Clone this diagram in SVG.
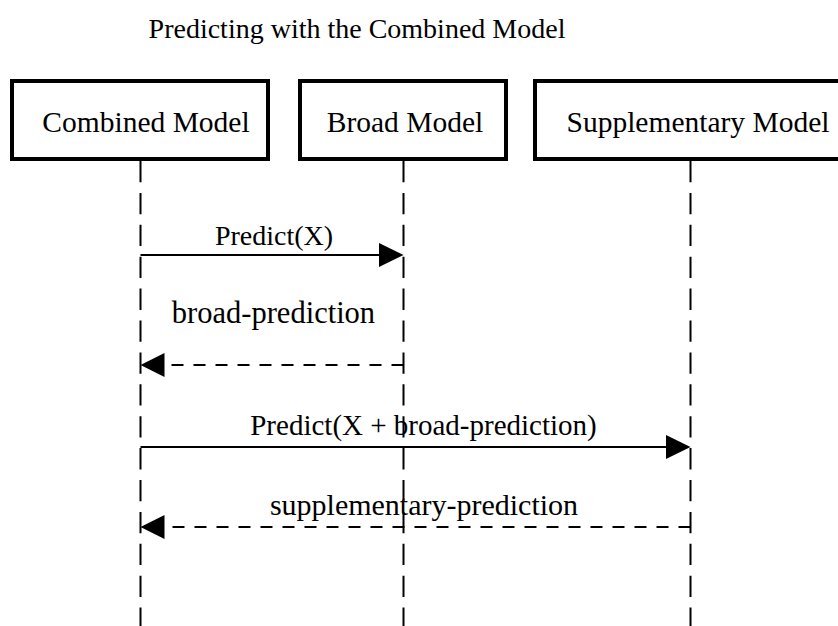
<svg xmlns="http://www.w3.org/2000/svg" width="838" height="626" viewBox="0 0 838 626">
  <style>
    text { font-family: "Liberation Serif", "Times New Roman", serif; font-size: 28px; fill: #000; text-anchor: middle; }
    .name { font-size: 29.5px; }
    .box { fill: #fff; stroke: #000; stroke-width: 4; }
    .life { stroke: #000; stroke-width: 2; stroke-dasharray: 21.3 10.6; fill: none; }
    .msg { stroke: #000; stroke-width: 2; fill: none; }
    .reply { stroke: #000; stroke-width: 2; fill: none; stroke-dasharray: 12 10; }
    .head { fill: #000; }
  </style>
  <rect width="838" height="626" fill="#fff"/>

  <text id="title" x="357" y="38">Predicting with the Combined Model</text>

  <!-- participant lifelines -->
  <g id="lifelines">
    <line class="life" x1="140.5" y1="161" x2="140.5" y2="640"/>
    <line class="life" x1="403.5" y1="161" x2="403.5" y2="640"/>
    <line class="life" x1="690.5" y1="161" x2="690.5" y2="640"/>
  </g>

  <g id="combined-model">
    <rect class="box" x="12" y="81" width="256" height="78"/>
    <text class="name" x="146" y="132">Combined Model</text>
  </g>
  <g id="broad-model">
    <rect class="box" x="300" y="81" width="206" height="78"/>
    <text class="name" x="405" y="132">Broad Model</text>
  </g>
  <g id="supplementary-model">
    <rect class="box" x="535" y="81" width="312" height="78"/>
    <text class="name" x="698" y="132">Supplementary Model</text>
  </g>

  <!-- messages -->
  <g id="connectors">
    <line class="msg" x1="140.5" y1="255" x2="380" y2="255"/>
    <polygon class="head" points="379,243 403.5,255 379,267"/>
    <text x="274" y="245">Predict(X)</text>

    <line class="reply" x1="403.5" y1="365" x2="163" y2="365"/>
    <polygon class="head" points="164.5,353 140.5,365 164.5,377"/>
    <text x="273.5" y="323" style="font-size:30.5px">broad-prediction</text>

    <line class="msg" x1="140.5" y1="447" x2="667" y2="447"/>
    <polygon class="head" points="666,435 690.5,447 666,459"/>
    <text x="423.5" y="435" style="font-size:29px">Predict(X + broad-prediction)</text>

    <line class="reply" x1="690.5" y1="527" x2="163" y2="527"/>
    <polygon class="head" points="164.5,515 140.5,527 164.5,539"/>
    <text x="424" y="515" style="font-size:30px">supplementary-prediction</text>
  </g>
</svg>
